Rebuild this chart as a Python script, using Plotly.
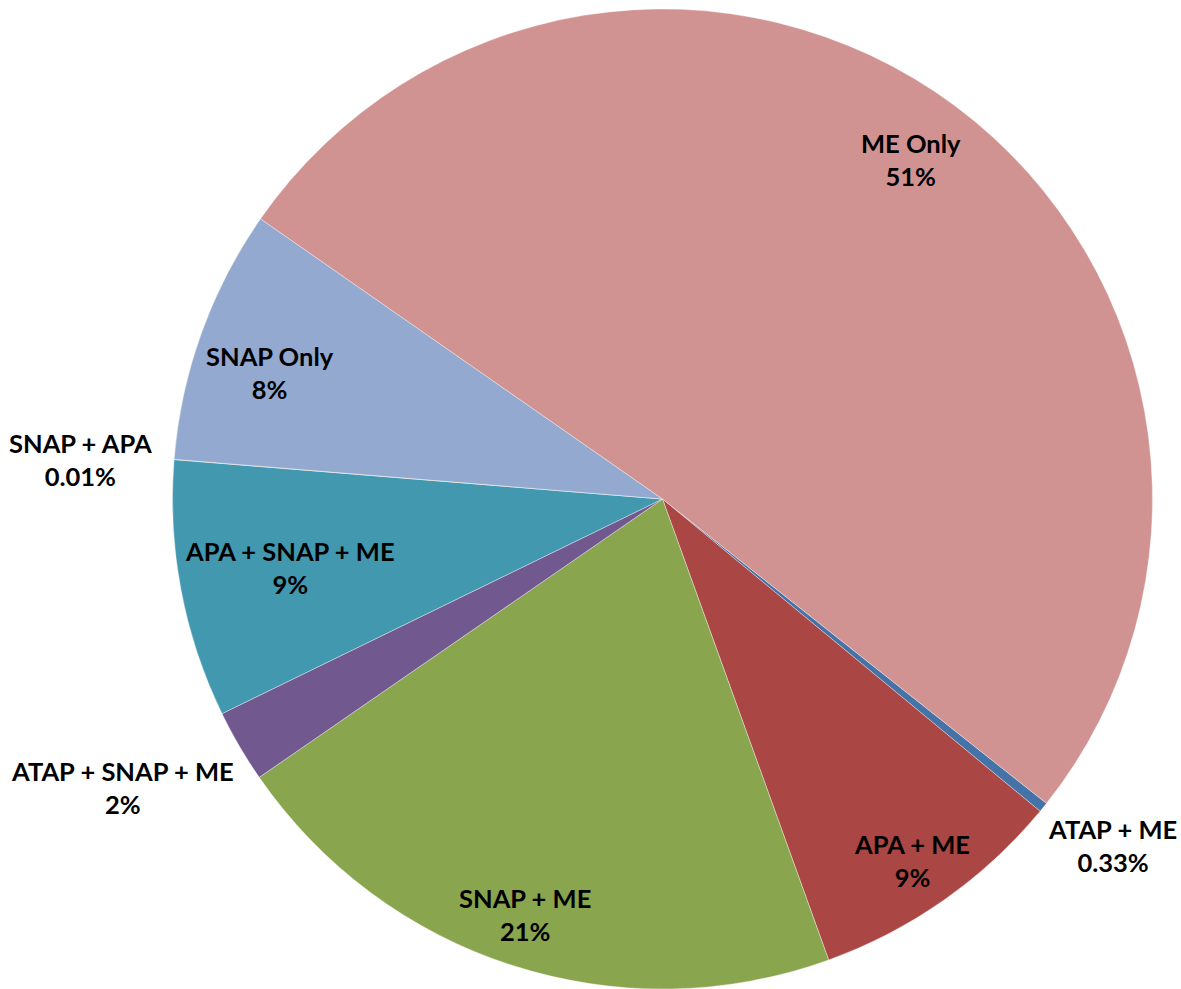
import math
import plotly.graph_objects as go

# ---- data ----
categories = ["ATAP + ME", "APA + ME", "SNAP + ME", "ATAP + SNAP + ME",
              "APA + SNAP + ME", "SNAP + APA", "SNAP Only", "ME Only"]
shares = [0.33, 8.5, 20.9, 2.4, 8.5, 0.01, 8.4, 51.0]
share_labels = ["0.33%", "9%", "21%", "2%", "9%", "0.01%", "8%", "51%"]

# ---- style ----
colors = ["#4572A7", "#AA4643", "#89A54E", "#71588F",
          "#4198AF", "#DB843D", "#93A9CF", "#D19392"]
label_radius = [1.158, 0.896, 0.893, 1.25, 0.773, 1.191, 0.842, 0.859]
label_angle_shift = [-1.4, 0.5, 0.5, 2.2, 0.2, -0.7, -1.9, -0.4]
rotation = 128.4
W, H = 1181, 989
dom_x = [172.5 / W, 1152.5 / W]
dom_y = [(H - 989) / H, (H - 9) / H]
FONT = "Lato, Liberation Sans, Arial, sans-serif"

fig = go.Figure(go.Pie(
    labels=categories,
    values=shares,
    sort=False,
    direction="clockwise",
    rotation=rotation,
    marker=dict(colors=colors, line=dict(color="rgba(255,255,255,0.6)", width=0.6)),
    textinfo="none",
    hoverinfo="label+percent",
    domain=dict(x=dom_x, y=dom_y),
    showlegend=False,
))

# label positions derived from the slice mid-angles
cx = (dom_x[0] + dom_x[1]) / 2 * W
cy = (1 - (dom_y[0] + dom_y[1]) / 2) * H
r = min((dom_x[1] - dom_x[0]) * W, (dom_y[1] - dom_y[0]) * H) / 2
total = sum(shares)
start = rotation
for name, v, txt, f, da in zip(categories, shares, share_labels,
                               label_radius, label_angle_shift):
    span = v / total * 360
    mid = math.radians(start + span / 2 + da)
    start += span
    px = cx + r * f * math.sin(mid)
    py = cy - r * f * math.cos(mid)
    fig.add_annotation(
        x=px / W, y=1 - py / H, xref="paper", yref="paper",
        text=f"<b>{name}<br>{txt}</b>", showarrow=False,
        align="center", xanchor="center", yanchor="middle",
        font=dict(family=FONT, size=25.5, color="#000000"),
    )

fig.update_layout(
    width=W, height=H,
    margin=dict(l=0, r=0, t=0, b=0),
    paper_bgcolor="white",
    plot_bgcolor="white",
)

fig.write_html(
    "out.html",
    config={"displayModeBar": False},
    post_script="document.body.style.margin='0';document.body.style.overflow='hidden';",
)
